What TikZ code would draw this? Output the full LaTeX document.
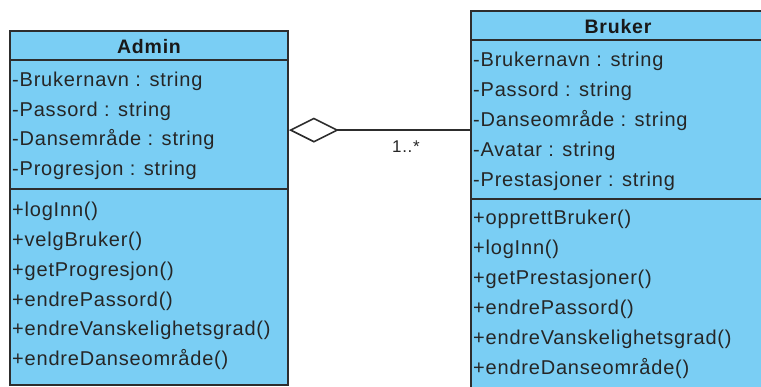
\documentclass[tikz,border=0pt]{standalone}
\usepackage{fontspec}
\setmainfont{Liberation Sans}[LetterSpace=4]
\usepackage{tikz}
\usetikzlibrary{
    calc,
    arrows.meta
}
\definecolor{classblue}{RGB}{122,206,244}
\definecolor{edgegray}{RGB}{45,45,45}

\tikzset{
    classbox/.style={draw=edgegray,fill=classblue,line width=1.8pt,inner sep=0pt},
    member/.style={anchor=base west,inner sep=0pt,text=black!85,font=\fontsize{20}{22}\selectfont},
    classname/.style={anchor=base,inner sep=0pt,text=black!90,font=\fontsize{19.5}{22}\selectfont\bfseries}
}

\begin{document}
\begin{tikzpicture}[x=1pt,y=-1pt]

\useasboundingbox (0,0) rectangle (761,387);
\clip (0,0) rectangle (761,387);

%====================================================
% Classe Admin
%====================================================

\node[classbox,minimum width=278pt,minimum height=354pt] (admin) at (149,208) {};

\draw[edgegray,line width=1.8pt] ([yshift=-30pt]admin.north west) -- ([yshift=-30pt]admin.north east);
\draw[edgegray,line width=1.8pt] ([yshift=-159pt]admin.north west) -- ([yshift=-159pt]admin.north east);

\node[classname] (adminT) at (149,53.3) {Admin};

\node[member] (adminA1) at (12,86.5) {-Brukernavn : string};
\node[member] (adminA2) at (12,116.2) {-Passord : string};
\node[member] (adminA3) at (12,145.9) {-Dansemråde : string};
\node[member] (adminA4) at (12,175.6) {-Progresjon : string};

\node[member] (adminM1) at (12,216.7) {+logInn()};
\node[member] (adminM2) at (12,246.5) {+velgBruker()};
\node[member] (adminM3) at (12,276.3) {+getProgresjon()};
\node[member] (adminM4) at (12,306.1) {+endrePassord()};
\node[member] (adminM5) at (12,335.9) {+endreVanskelighetsgrad()};
\node[member] (adminM6) at (12,365.7) {+endreDanseområde()};

%====================================================
% Classe Bruker
%====================================================

\node[classbox,minimum width=299pt,minimum height=384pt] (bruker) at (620.5,203) {};

\draw[edgegray,line width=1.8pt] ([yshift=-30pt]bruker.north west) -- ([yshift=-30pt]bruker.north east);
\draw[edgegray,line width=1.8pt] ([yshift=-189pt]bruker.north west) -- ([yshift=-189pt]bruker.north east);

\node[classname] (brukerT) at (618,33.3) {Bruker};

\node[member] (brukerA1) at (473,66.7) {-Brukernavn : string};
\node[member] (brukerA2) at (473,96.7) {-Passord : string};
\node[member] (brukerA3) at (473,126.7) {-Danseområde : string};
\node[member] (brukerA4) at (473,156.7) {-Avatar : string};
\node[member] (brukerA5) at (473,186.7) {-Prestasjoner : string};

\node[member] (brukerM1) at (473,225) {+opprettBruker()};
\node[member] (brukerM2) at (473,255) {+logInn()};
\node[member] (brukerM3) at (473,285) {+getPrestasjoner()};
\node[member] (brukerM4) at (473,315) {+endrePassord()};
\node[member] (brukerM5) at (473,345) {+endreVanskelighetsgrad()};
\node[member] (brukerM6) at (473,375) {+endreDanseområde()};

%====================================================
% Aggregazione Admin <>-- Bruker
%====================================================

\coordinate (agg) at ([yshift=-100pt]admin.north east);

\draw[edgegray,line width=1.6pt,{Diamond[open,length=50pt,width=25pt,line join=miter]}-] (agg) -- (agg -| bruker.west);

\node[inner sep=0pt,anchor=base,text=black!85,font=\fontsize{17}{19}\selectfont] (molt) at (406,153) {1..*};

\end{tikzpicture}
\end{document}
